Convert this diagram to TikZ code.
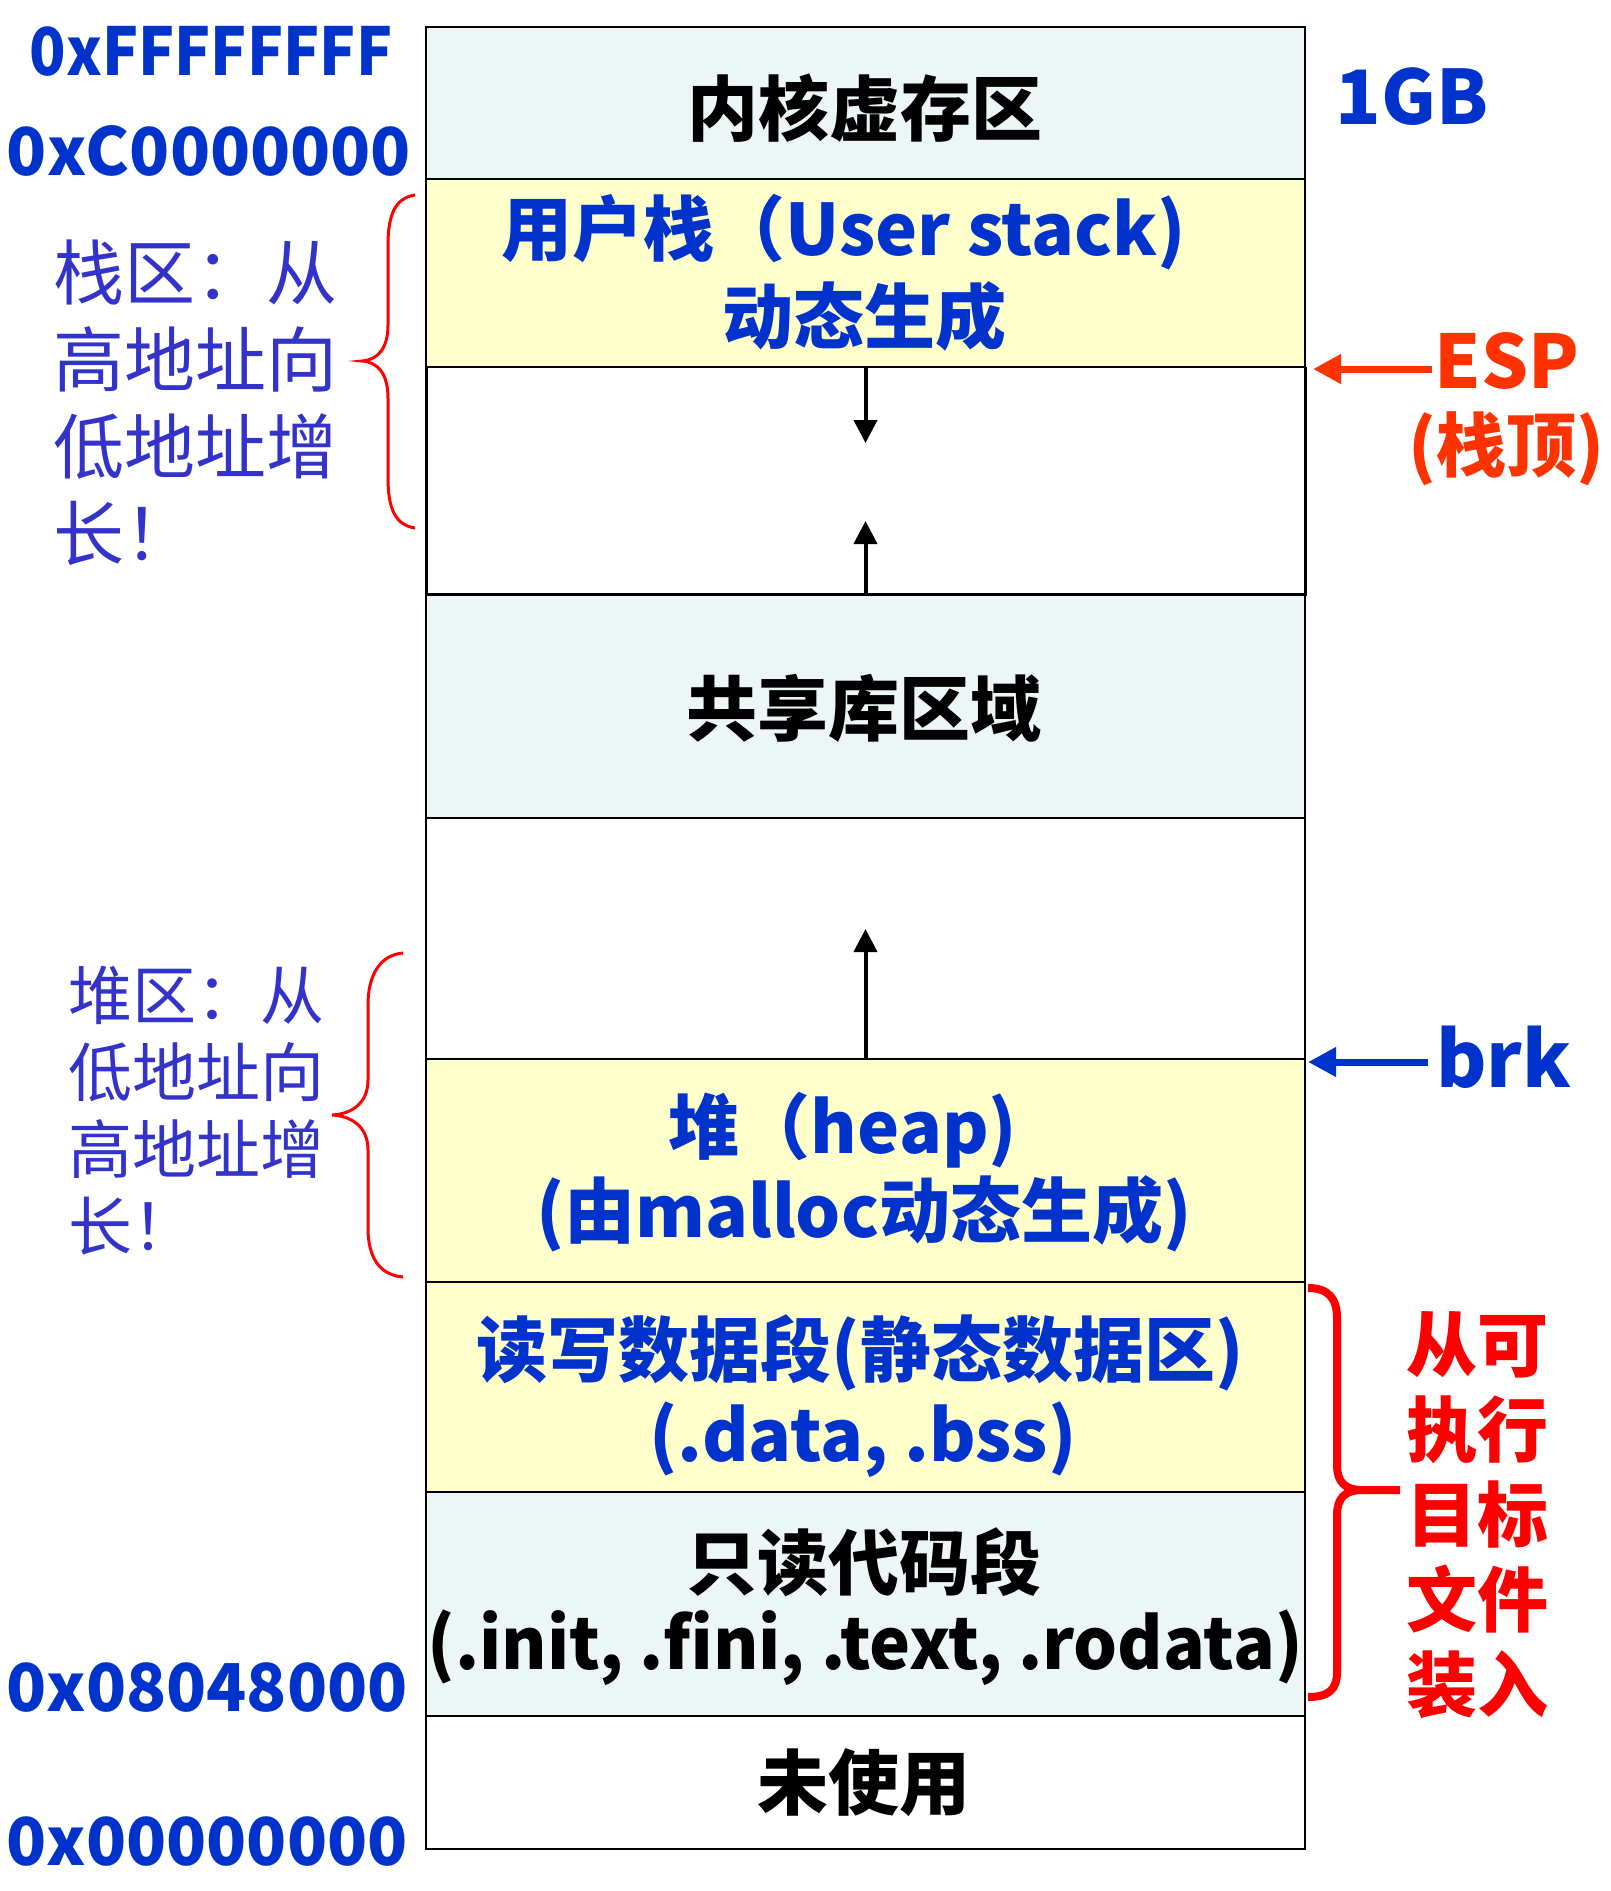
\documentclass[tikz,border=0pt]{standalone}
\usepackage{fontspec}
\setmainfont{Noto Sans CJK SC}
\usetikzlibrary{arrows.meta}
\definecolor{paleblue}{RGB}{237,246,247}
\definecolor{paleyellow}{RGB}{255,255,204}
\definecolor{textblue}{RGB}{0,51,204}
\definecolor{softblue}{RGB}{51,51,204}
\definecolor{espred}{RGB}{255,51,0}
\definecolor{brred}{RGB}{255,0,0}
\tikzset{
  region/.style={draw=black, line width=1.2pt, minimum width=879pt, inner sep=0pt, outer sep=0pt, anchor=north west},
  boxlbl/.style={inner sep=0pt, font=\bfseries\fontsize{71}{85}\selectfont},
  hexlbl/.style={inner sep=0pt, text=textblue, font=\bfseries\fontsize{66}{70}\selectfont},
  growlbl/.style={inner sep=0pt, text=softblue, align=left, anchor=north west},
  blkarrow/.style={-{Triangle[length=23pt,width=23pt]}, line width=4pt, draw=black},
  ptrarrow/.style={-{Triangle[length=28pt,width=28pt]}, line width=7pt},
  thinbrace/.style={draw=brred, line width=3pt},
  thickbrace/.style={draw=brred, line width=8pt}
}
\begin{document}
\begin{tikzpicture}[x=1pt,y=-1pt]
\useasboundingbox (0,0) rectangle (1611,1891);
% regions
\node[region, fill=paleblue,   minimum height=152pt] (kernel) at (426,27) {};
\node[region, fill=paleyellow, minimum height=188pt] (ustack) at (426,179) {};
\node[region, fill=white,      minimum height=227pt] (sgap)   at (426,367) {};
\node[region, fill=paleblue,   minimum height=224pt] (shared) at (426,594) {};
\node[region, fill=white,      minimum height=241pt] (hgap)   at (426,818) {};
\node[region, fill=paleyellow, minimum height=223pt] (heap)   at (426,1059) {};
\node[region, fill=paleyellow, minimum height=210pt] (rw)     at (426,1282) {};
\node[region, fill=paleblue,   minimum height=224pt] (ro)     at (426,1492) {};
\node[region, fill=white,      minimum height=133pt] (unused) at (426,1716) {};
\draw[line width=3pt] (sgap.north west) -- (sgap.south west) -- (sgap.south east) -- (sgap.north east);

% region labels
\node[boxlbl] (tkernel) at (865,108) {内核虚存区};
\node[boxlbl, text=textblue] (tustack1) at (844,232) {用户栈（User stack)};
\node[boxlbl, text=textblue] (tustack2) at (864,316) {动态生成};
\node[boxlbl] (tshared) at (864,708) {共享库区域};
\node[boxlbl, text=textblue] (theap1) at (843,1130) {堆（heap)};
\node[boxlbl, text=textblue] (theap2) at (864,1214) {(由malloc动态生成)};
\node[boxlbl, text=textblue] (trw1) at (860,1353) {读写数据段(静态数据区)};
\node[boxlbl, text=textblue] (trw2) at (863,1440) {(.data, .bss)};
\node[boxlbl] (tro1) at (864,1562) {只读代码段};
\node[boxlbl] (tro2) at (865,1648) {\scalebox{0.975}[1]{(.init, .fini, .text, .rodata)}};
\node[boxlbl] (tunused) at (864,1783) {未使用};

% growth arrows
\coordinate (sdowntip) at (865.5,443);
\coordinate (suptip) at (865.5,521);
\coordinate (huptip) at (865.5,929);
\draw[blkarrow] (sgap.north) -- (sdowntip);
\draw[blkarrow] (sgap.south) -- (suptip);
\draw[blkarrow] (hgap.south) -- (huptip);

% address labels
\node[hexlbl] (aF) at (211,51) {\scalebox{0.91}[1]{0xFFFFFFFF}};
\node[hexlbl] (aC) at (209,151) {0xC0000000};
\node[hexlbl] (a8) at (207,1688) {0x08048000};
\node[hexlbl] (a0) at (207,1842) {0x00000000};
\node[inner sep=0pt, text=textblue, font=\bfseries\fontsize{75}{80}\selectfont] (gb) at (1412,97) {1GB};

% ESP pointer
\node[inner sep=0pt, text=espred, font=\bfseries\fontsize{74}{80}\selectfont] (esp) at (1507,361) {ESP};
\node[inner sep=0pt, text=espred, font=\bfseries\fontsize{70}{80}\selectfont] (esptop) at (1506,449) {(栈顶)};
\coordinate (espstart) at (1432,369);
\coordinate (esptip) at (1313,369);
\draw[ptrarrow, draw=espred] (espstart) -- (esptip);

% brk pointer
\node[inner sep=0pt, anchor=base west, text=textblue, font=\bfseries\fontsize{77}{85}\selectfont] (brk) at (1436,1087) {brk};
\coordinate (brkstart) at (1428,1062);
\coordinate (brktip) at (1308,1062);
\draw[ptrarrow, draw=textblue] (brkstart) -- (brktip);

% stack brace and text
\draw[thinbrace] (415,195) .. controls (395,198) and (388,215) .. (388,245) -- (388,325)
  .. controls (388,348) and (378,360) .. (362,361) .. controls (378,362) and (388,374) .. (388,398)
  -- (388,478) .. controls (388,508) and (395,525) .. (415,528);
\node[growlbl, font=\fontsize{71}{87}\selectfont] (stacktxt) at (53,240) {栈区：从\\高地址向\\低地址增\\长！};

% heap brace and text
\draw[thinbrace] (403,953) .. controls (380,955) and (368,975) .. (368,1005) -- (368,1080)
  .. controls (368,1103) and (352,1114) .. (332,1115) .. controls (352,1116) and (368,1127) .. (368,1150)
  -- (368,1228) .. controls (368,1258) and (380,1275) .. (403,1277);
\node[growlbl, font=\fontsize{64}{77}\selectfont] (heaptxt) at (68,966) {堆区：从\\低地址向\\高地址增\\长！};

% loaded-from-file brace and text
\draw[thickbrace] (1308,1288) .. controls (1328,1288) and (1337,1298) .. (1337,1318) -- (1337,1465)
  .. controls (1337,1482) and (1345,1490) .. (1362,1490) -- (1400,1490);
\draw[thickbrace] (1362,1490) .. controls (1345,1490) and (1337,1498) .. (1337,1515) -- (1337,1672)
  .. controls (1337,1690) and (1328,1697) .. (1308,1697);
\node[inner sep=0pt, anchor=north, align=center, text=brred, font=\bfseries\fontsize{71}{85}\selectfont] (loadtxt) at (1477,1311) {从可\\执行\\目标\\文件\\装入};
\end{tikzpicture}
\end{document}
